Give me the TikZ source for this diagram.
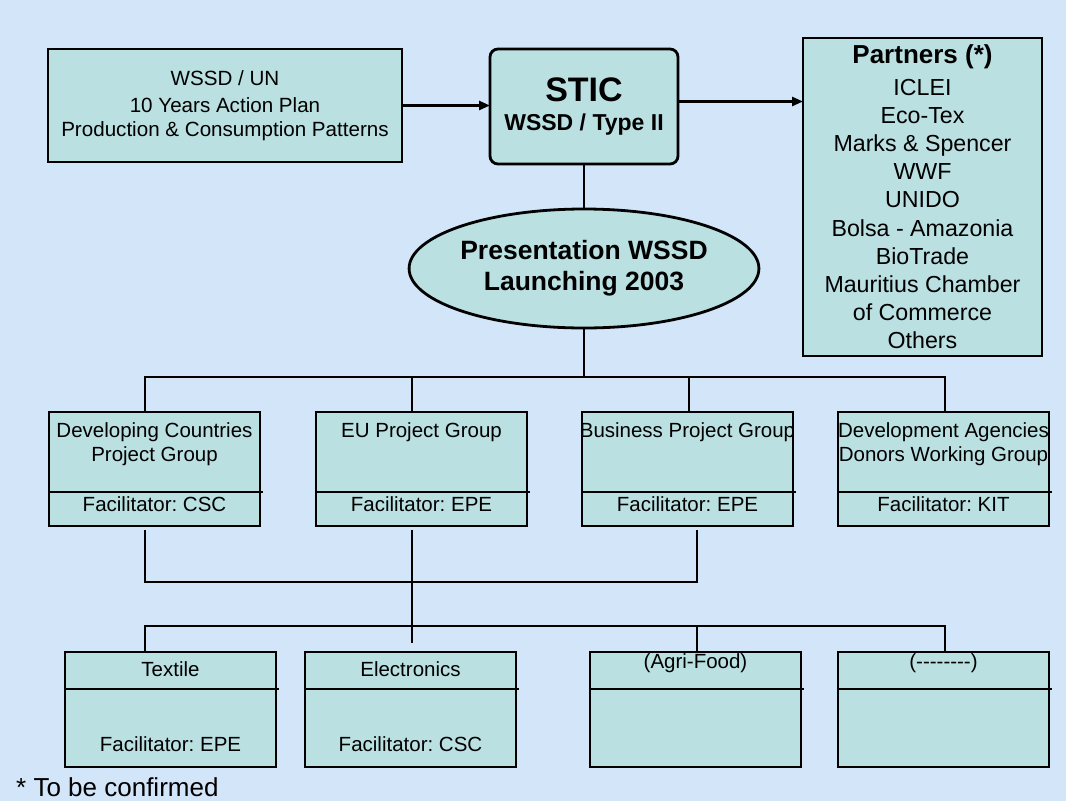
\documentclass[tikz,border=0pt]{standalone}
\usepackage{fontspec}
\setmainfont{Liberation Sans}
\usepackage{tikz}
\usetikzlibrary{arrows.meta,shapes.geometric}
\definecolor{bgblue}{RGB}{210,229,249}
\definecolor{boxcyan}{RGB}{186,224,226}
\frenchspacing

\begin{document}
\begin{tikzpicture}[x=1pt,y=-1pt,
		box/.style={draw, fill=boxcyan, line width=2.8pt, inner sep=0pt, outer sep=0pt, align=center},
		grp/.style={box, minimum width=211pt, minimum height=114pt},
		sect/.style={box, minimum width=211pt, minimum height=115pt},
		txt/.style={inner sep=0pt, align=center, font=\fontsize{20.5}{23.7}\selectfont},
		link/.style={line width=2.6pt},
		arr/.style={link, -{Triangle[length=11pt,width=9pt]}},
		sep/.style={line width=2.8pt}]
	\fill[bgblue] (0,0) rectangle (1066,801);
	\node[box, minimum width=354pt, minimum height=113pt, font=\fontsize{20.6}{24}\selectfont] (wssd) at (225,105.5) {WSSD / UN\\[3pt]10 Years Action Plan\\Production \& Consumption Patterns};
	\node[box, rounded corners=8pt, minimum width=188pt, minimum height=115pt, font=\bfseries\fontsize{23}{29.4}\selectfont] (stic) at (584,106.5) {{\fontsize{34}{34}\selectfont STIC}\\WSSD / Type II};
	\node[box, ellipse, minimum width=314pt, minimum height=119pt, font=\bfseries\fontsize{26.5}{31}\selectfont] (pres) at (584,268.5) {Presentation WSSD\\Launching 2003};
	\node[box, minimum width=239pt, minimum height=318pt, font=\fontsize{23.2}{28.2}\selectfont] (partners) at (922.5,197) {{\bfseries\fontsize{26}{28}\selectfont Partners (*)}\\[3pt]ICLEI\\Eco-Tex\\Marks \& Spencer\\WWF\\UNIDO\\Bolsa - Amazonia\\BioTrade\\Mauritius Chamber\\of Commerce\\Others};
	\draw[arr] (wssd.east) -- (wssd.east -| stic.west);
	\draw[arr] ([yshift=5pt]stic.east) -- ([yshift=5pt]stic.east -| partners.west);
	\draw[link] (stic.south) -- (pres.north);

	\node[grp] (dc) at (154.5,469) {};
	\node[grp] (eu) at (421.5,469) {};
	\node[grp] (biz) at (687.5,469) {};
	\node[grp] (da) at (943.5,469) {};
	\foreach \n in {dc,eu,biz,da}
		\draw[sep] ([yshift=-80pt]\n.north west) -- ([yshift=-80pt,xshift=2.5pt]\n.north east);
	\node[txt, anchor=north] at ([yshift=-10.4pt]dc.north) {Developing Countries\\Project Group};
	\node[txt, anchor=north] at ([yshift=-10.4pt]eu.north) {EU Project Group};
	\node[txt, anchor=north] at ([yshift=-10.4pt]biz.north) {Business Project Group};
	\node[txt, anchor=north] at ([yshift=-10.4pt]da.north) {Development Agencies\\Donors Working Group};
	\node[txt, anchor=base] at ([yshift=14.3pt]dc.south) {Facilitator: CSC};
	\node[txt, anchor=base] at ([yshift=14.3pt]eu.south) {Facilitator: EPE};
	\node[txt, anchor=base] at ([yshift=14.3pt]biz.south) {Facilitator: EPE};
	\node[txt, anchor=base] at ([yshift=14.3pt]da.south) {Facilitator: KIT};

	\node[sect] (tex) at (170.5,709.5) {};
	\node[sect] (ele) at (410.5,709.5) {};
	\node[sect] (agri) at (695.5,709.5) {};
	\node[sect] (misc) at (943.5,709.5) {};
	\foreach \n in {tex,ele,agri,misc}
		\draw[sep] ([yshift=-37pt]\n.north west) -- ([yshift=-37pt,xshift=2.5pt]\n.north east);
	\node[txt, anchor=base] at ([yshift=-24.7pt]tex.north) {Textile};
	\node[txt, anchor=base] at ([yshift=-24.7pt]ele.north) {Electronics};
	\node[txt, anchor=base] at ([yshift=-16.3pt]agri.north) {(Agri-Food)};
	\node[txt, anchor=base] at ([yshift=-16.3pt]misc.north) {(-{}-{}-{}-{}-{}-{}-{}-)};
	\node[txt, anchor=base] at ([yshift=15.3pt]tex.south) {Facilitator: EPE};
	\node[txt, anchor=base] at ([yshift=15.3pt]ele.south) {Facilitator: CSC};

	\coordinate (t1) at (145,377);
	\coordinate (t2) at (945,377);
	\draw[link] (pres.south) -- (pres.south |- t1);
	\draw[link] (t1 |- dc.north) -- (t1) -- (t2) -- (t2 |- da.north);
	\draw[link] ([xshift=-9.5pt]eu.north) -- ([xshift=-9.5pt]eu.north |- t1);
	\draw[link] ([xshift=1.5pt]biz.north) -- ([xshift=1.5pt]biz.north |- t1);

	\coordinate (m2) at (697,582);
	\draw[link] ([xshift=-9.5pt,yshift=-4pt]dc.south) |- (m2) -- ([xshift=9.5pt,yshift=-4pt]biz.south);
	\draw[link] ([xshift=-9.5pt,yshift=-4pt]eu.south) -- ([xshift=1.5pt,yshift=9pt]ele.north);

	\coordinate (l1) at (145,626);
	\coordinate (l2) at (945,626);
	\draw[link] (l1 |- tex.north) -- (l1) -- (l2) -- (l2 |- misc.north);
	\draw[link] ([xshift=1.5pt]agri.north) -- ([xshift=1.5pt]agri.north |- l1);

	\node[anchor=base west, inner sep=0pt, font=\fontsize{26}{30}\selectfont] (note) at (16,796) {* To be confirmed};
\end{tikzpicture}
\end{document}
